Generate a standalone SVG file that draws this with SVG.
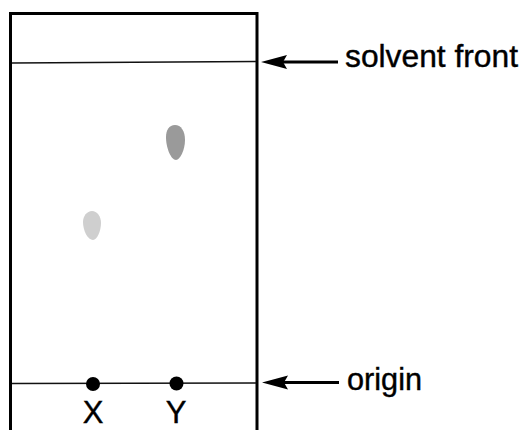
<svg xmlns="http://www.w3.org/2000/svg" width="522" height="430" viewBox="0 0 522 430">
<defs>
<style>
.frame{fill:none;stroke:#000;stroke-width:3}
.thin{stroke:#111;stroke-width:1.5;fill:none}
.arr{stroke:#000;stroke-width:3.2;fill:none}
.head{fill:#000}
.lbl{font-family:"Liberation Sans",Arial,sans-serif;font-size:31px;fill:#000;stroke:#000;stroke-width:0.4}
</style>
</defs>
<g id="plate">
<path class="frame" d="M10.5,430 L10.5,13.5 L257,13.5 L257,430"/>
</g>
<g id="solvent-front-line"><path class="thin" d="M12,63 L256,61.5"/></g>
<g id="origin-line"><path class="thin" d="M12,383.5 L256,383"/></g>
<g id="spot-Y"><path d="M175,125 C181,125 185,131 185,140 C185,150 180,160 176,160 C171,160 166,148 166,137 C166,130 169,125 175,125 Z" fill="#9a9a9a"/></g>
<g id="spot-X"><path d="M92,211 C97,211 101,216 101,223 C101,231 97,240 93,240 C88,240 83,231 83,222 C83,216 87,211 92,211 Z" fill="#cfcfcf"/></g>
<g id="dot-X"><circle cx="93" cy="384" r="7" fill="#000"/><text class="lbl" x="93" y="423" text-anchor="middle">X</text></g>
<g id="dot-Y"><circle cx="176.5" cy="383.5" r="7" fill="#000"/><text class="lbl" x="176" y="423" text-anchor="middle">Y</text></g>
<g id="connectors">
<path class="arr" d="M338,62 L280,62"/>
<path class="head" d="M261,62 L287,55 L283,62 L287,69 Z"/>
<path class="arr" d="M339,382.5 L280,382.5"/>
<path class="head" d="M262,382.5 L288,375.5 L284,382.5 L288,389.5 Z"/>
</g>
<g id="label-solvent"><text class="lbl" x="345" y="67" textLength="173" lengthAdjust="spacingAndGlyphs">solvent front</text></g>
<g id="label-origin"><text class="lbl" x="347" y="390" textLength="75" lengthAdjust="spacingAndGlyphs">origin</text></g>
</svg>
